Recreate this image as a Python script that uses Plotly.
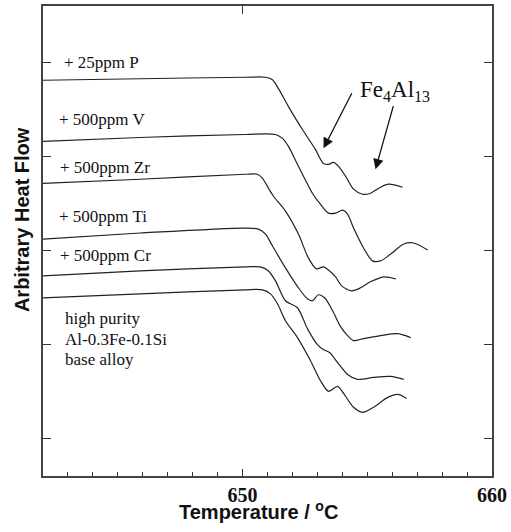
import plotly.graph_objects as go

# ---- data: temperature (°C) and arbitrary heat flow ----
T_P = [642.00, 645.90, 650.11, 650.92, 651.20, 651.44, 651.84, 652.40, 652.92, 653.24, 653.45, 653.65, 653.85, 654.13, 654.45, 654.81, 655.13, 655.53, 655.86, 656.42]
H_P = [4.814, 4.830, 4.846, 4.846, 4.820, 4.724, 4.533, 4.289, 4.077, 3.928, 3.918, 3.939, 3.897, 3.791, 3.653, 3.599, 3.610, 3.674, 3.706, 3.674]

T_V = [642.00, 645.90, 650.11, 651.32, 651.60, 651.84, 652.24, 652.80, 653.12, 653.45, 653.73, 654.01, 654.21, 654.45, 654.85, 655.21, 655.53, 655.94, 656.46, 656.86, 657.42]
H_V = [4.162, 4.204, 4.236, 4.236, 4.194, 4.109, 3.897, 3.610, 3.493, 3.398, 3.398, 3.430, 3.387, 3.239, 3.027, 2.889, 2.889, 2.963, 3.069, 3.080, 3.005]

T_Zr = [642.00, 645.90, 650.11, 650.59, 650.80, 651.04, 651.24, 651.72, 652.24, 652.64, 652.96, 653.24, 653.49, 653.73, 653.97, 654.37, 654.73, 655.13, 655.65, 656.14]
H_Zr = [3.716, 3.759, 3.812, 3.812, 3.769, 3.663, 3.578, 3.419, 3.175, 2.920, 2.804, 2.825, 2.782, 2.719, 2.623, 2.570, 2.602, 2.666, 2.719, 2.698]

T_Ti = [642.00, 645.90, 650.11, 650.63, 650.92, 651.20, 651.72, 652.24, 652.60, 652.80, 653.04, 653.29, 653.61, 653.93, 654.21, 654.45, 654.85, 655.53, 656.22, 656.74]
H_Ti = [3.122, 3.186, 3.239, 3.228, 3.175, 3.048, 2.814, 2.602, 2.485, 2.464, 2.528, 2.496, 2.358, 2.188, 2.093, 2.040, 2.061, 2.093, 2.114, 2.072]

T_Cr = [642.00, 645.90, 650.11, 650.71, 651.04, 651.32, 651.72, 652.20, 652.60, 653.00, 653.24, 653.49, 653.81, 654.21, 654.61, 655.25, 655.94, 656.46]
H_Cr = [2.729, 2.782, 2.825, 2.825, 2.782, 2.676, 2.464, 2.390, 2.167, 1.997, 1.944, 1.912, 1.806, 1.679, 1.626, 1.647, 1.658, 1.626]

T_base = [642.00, 645.90, 650.11, 650.80, 651.12, 651.40, 651.72, 652.20, 652.72, 653.12, 653.45, 653.81, 654.05, 654.45, 654.81, 655.25, 655.82, 656.22, 656.58]
H_base = [2.496, 2.538, 2.581, 2.581, 2.538, 2.432, 2.252, 2.072, 1.828, 1.615, 1.499, 1.552, 1.477, 1.329, 1.276, 1.329, 1.435, 1.467, 1.424]

curves = [(T_P, H_P), (T_V, H_V), (T_Zr, H_Zr), (T_Ti, H_Ti), (T_Cr, H_Cr), (T_base, H_base)]

labels = ["+ 25ppm P", "+ 500ppm V", "+ 500ppm Zr", "+ 500ppm Ti", "+ 500ppm Cr"]
label_T = [642.76, 642.56, 642.60, 642.56, 642.60]
label_H = [5.00, 4.395, 3.886, 3.366, 2.942]
base_lines = ["high purity", "Al-0.3Fe-0.1Si", "base alloy"]
base_H = [2.273, 2.050, 1.838]

x_range = [642, 660]
y_range = [0.597, 5.605]

serif = "Liberation Serif, Times New Roman, serif"
sans = "Liberation Sans, Arial, sans-serif"

fig = go.Figure()
for T, H in curves:
    fig.add_trace(go.Scatter(x=T, y=H, mode="lines",
                             line=dict(color="#222222", width=1.2, shape="spline", smoothing=0.8),
                             showlegend=False, hoverinfo="skip"))
# invisible trace to activate the top axis
fig.add_trace(go.Scatter(x=[650], y=[3], xaxis="x2", mode="markers",
                         marker=dict(opacity=0), showlegend=False, hoverinfo="skip"))

ann = []
for txt, tx, hy in zip(labels, label_T, label_H):
    ann.append(dict(x=tx, y=hy, xref="x", yref="y", text=txt, showarrow=False,
                    xanchor="left", yanchor="middle",
                    font=dict(family=serif, size=17, color="#111")))
for txt, hy in zip(base_lines, base_H):
    ann.append(dict(x=642.80, y=hy, xref="x", yref="y", text=txt, showarrow=False,
                    xanchor="left", yanchor="middle",
                    font=dict(family=serif, size=17, color="#111")))
ann.append(dict(x=654.61, y=4.703, xref="x", yref="y", text="Fe<sub>4</sub>Al<sub>13</sub>",
                showarrow=False, xanchor="left", yanchor="middle",
                font=dict(family=serif, size=23, color="#111")))
# arrows
for (tip_x, tip_y, tail_x, tail_y) in [(653.245, 4.088, 654.41, 4.692), (655.33, 3.865, 656.06, 4.554)]:
    ann.append(dict(x=tip_x, y=tip_y, ax=tail_x, ay=tail_y, xref="x", yref="y",
                    axref="x", ayref="y", text="", showarrow=True,
                    arrowhead=2, arrowsize=1.6, arrowwidth=1.3, arrowcolor="#111",
                    standoff=0, startstandoff=0))
# axis titles
ann.append(dict(x=-0.0468, y=0.5466, xref="paper", yref="paper", text="<b>Arbitrary Heat Flow</b>",
                textangle=-90, showarrow=False, xanchor="center", yanchor="middle",
                font=dict(family=sans, size=20, color="#111")))
ann.append(dict(x=0.479, y=-0.074, xref="paper", yref="paper", text="<b>Temperature / <sup>o</sup>C</b>",
                showarrow=False, xanchor="center", yanchor="middle",
                font=dict(family=sans, size=20, color="#111")))

fig.update_layout(
    width=511, height=532,
    margin=dict(l=43, r=19, t=4, b=56),
    paper_bgcolor="white", plot_bgcolor="white",
    annotations=ann,
    xaxis=dict(range=x_range, tick0=650, dtick=10, ticks="inside", ticklen=7, tickwidth=1.2,
               tickcolor="#333", showline=True, linecolor="#444", linewidth=1.5, mirror=True,
               showgrid=False, zeroline=False,
               tickfont=dict(family=serif, size=20, color="#111", weight="bold"),
               minor=dict(dtick=1, ticks="inside", ticklen=4, tickwidth=1, tickcolor="#333", showgrid=False)),
    xaxis2=dict(range=x_range, overlaying="x", side="top", tickvals=[650, 660], ticks="inside",
                ticklen=8, tickwidth=1.2, tickcolor="#333", showticklabels=False,
                showgrid=False, zeroline=False, showline=False),
    yaxis=dict(range=y_range, tick0=1, dtick=1, ticks="inside", ticklen=8, tickwidth=1.2,
               tickcolor="#333", showticklabels=False, showline=True, linecolor="#444",
               linewidth=1.5, mirror="ticks", showgrid=False, zeroline=False),
)

fig.write_html("out.html", config={"displayModeBar": False},
               post_script="document.body.style.margin='0';document.body.style.overflow='hidden';")
